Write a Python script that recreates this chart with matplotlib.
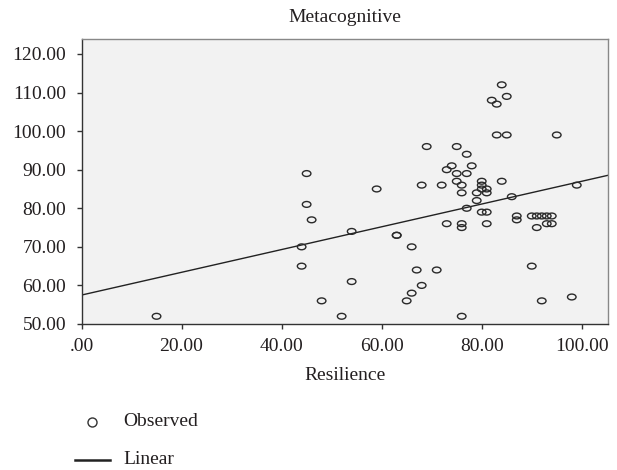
import matplotlib
matplotlib.use("Agg")
import matplotlib.pyplot as plt
import numpy as np
from matplotlib.path import Path
from matplotlib.transforms import Affine2D
from matplotlib.lines import Line2D

# ---- data ----
resilience = [15, 44, 44, 45, 45, 46, 48, 52, 54, 54, 59, 63, 63, 65, 66, 66, 67, 68, 68, 69,
              71, 72, 73, 73, 74, 75, 75, 75, 76, 76, 76, 76, 76, 77, 77, 77, 78, 79, 79, 80,
              80, 80, 81, 81, 80, 81, 81, 82, 83, 83, 84, 84, 85, 85, 86, 87, 87, 90, 91, 92,
              93, 94, 91, 93, 94, 90, 92, 95, 98, 99]
metacognitive = [52, 70, 65, 89, 81, 77, 56, 52, 74, 61, 85, 73, 73, 56, 70, 58, 64, 60, 86, 96,
                 64, 86, 90, 76, 91, 96, 89, 87, 86, 84, 76, 75, 52, 94, 89, 80, 91, 84, 82, 87,
                 86, 85, 85, 84, 79, 79, 76, 108, 107, 99, 112, 87, 109, 99, 83, 78, 77, 78, 78, 78,
                 78, 78, 75, 76, 76, 65, 56, 99, 57, 86]
linear_intercept = 57.5
linear_slope = 0.295
x_ticks = [0, 20, 40, 60, 80, 100]
x_tick_labels = [".00", "20.00", "40.00", "60.00", "80.00", "100.00"]
y_ticks = [50, 60, 70, 80, 90, 100, 110, 120]
y_tick_labels = ["50.00", "60.00", "70.00", "80.00", "90.00", "100.00", "110.00", "120.00"]
title = "Metacognitive"
x_label = "Resilience"
legend_labels = ["Observed", "Linear"]

# ---- style ----
TXT = "#231f20"
plt.rcParams['font.family'] = ['Liberation Serif', 'DejaVu Serif']
FS = 14

fig = plt.figure(figsize=(6.17, 4.70), dpi=100)
ax = fig.add_axes([81.5 / 617, 1 - 324 / 470, (608.3 - 81.5) / 617, (324 - 39.3) / 470])
ax.set_facecolor("#f2f2f2")

ellipse = Path.unit_circle().transformed(Affine2D().scale(1.0, 0.68))
ax.scatter(resilience, metacognitive, marker=ellipse, s=38, facecolors="none",
           edgecolors="#2a2a2a", linewidths=1.0, zorder=3)

xmin, xmax = 0, 105.3
xs = np.array([xmin, xmax])
ax.plot(xs, linear_intercept + linear_slope * xs, color="#222222", lw=1.0, zorder=2)

ax.set_xlim(xmin, xmax)
ax.set_ylim(50, 123.8)
ax.set_xticks(x_ticks)
ax.set_xticklabels(x_tick_labels)
ax.set_yticks(y_ticks)
ax.set_yticklabels(y_tick_labels)
ax.tick_params(direction="out", length=3.6, width=1, colors="#333333", labelcolor=TXT,
               labelsize=FS)
ax.tick_params(axis="y", pad=7.5)
ax.tick_params(axis="x", pad=6.5)
for s in ["left", "bottom"]:
    ax.spines[s].set_color("#333333")
    ax.spines[s].set_linewidth(1.0)
for s in ["top", "right"]:
    ax.spines[s].set_color("#888888")
    ax.spines[s].set_linewidth(1.0)

fig.text(345 / 617, 1 - 17 / 470, title, ha="center", va="center", fontsize=FS, color=TXT)
fig.text(345 / 617, 1 - 375 / 470, x_label, ha="center", va="center", fontsize=FS, color=TXT)

# legend drawn manually
fig.add_artist(Line2D([91.7 / 617], [1 - 421.7 / 470], marker="o", markersize=6.5,
                      markerfacecolor="none", markeredgecolor="#333333", markeredgewidth=1.0,
                      linestyle="none", transform=fig.transFigure))
fig.text(123.3 / 617, 1 - 421.7 / 470, legend_labels[0], ha="left", va="center",
         fontsize=FS, color=TXT)
fig.add_artist(Line2D([75 / 617, 110 / 617], [1 - 460 / 470, 1 - 460 / 470],
                      color="#222222", lw=1.8, transform=fig.transFigure))
fig.text(123.3 / 617, 1 - 460 / 470, legend_labels[1], ha="left", va="center",
         fontsize=FS, color=TXT)

fig.savefig("out.png", dpi=100)
